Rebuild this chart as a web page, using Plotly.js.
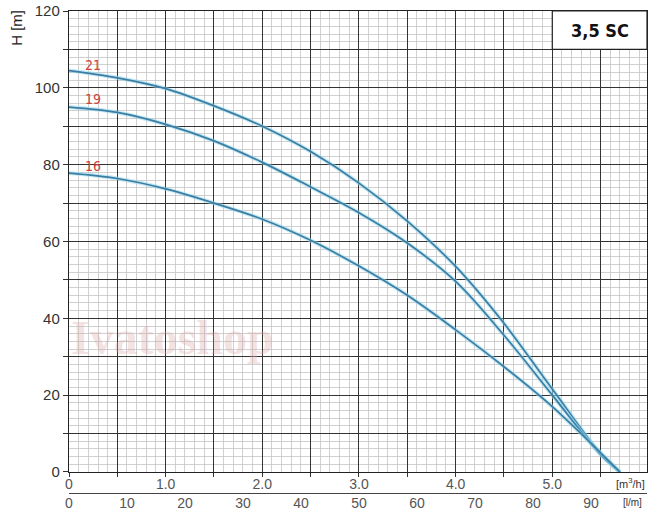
<!DOCTYPE html>
<html>
<head>
<meta charset="utf-8">
<script src="https://cdn.plot.ly/plotly-3.0.1.min.js"></script>
<style>html,body{margin:0;padding:0;background:#fff;}#chart{width:655px;height:532px;}</style>
</head>
<body>
<div id="chart"></div>
<script>
// Flow (m3/h)
const flowQ = [0, 0.5, 1.0, 1.5, 2.0, 2.5, 3.0, 3.5, 4.0, 4.5, 5.0, 5.5, 5.7];
// Head (m) per stage count
const head21 = [104.5, 102.6, 99.8, 95.3, 90.0, 83.4, 75.2, 65.3, 53.5, 38.7, 21.6, 4.8, 0];
const head19 = [95.0, 93.6, 90.5, 86.2, 80.6, 74.2, 67.5, 59.6, 49.6, 35.6, 20.0, 4.5, 0];
const head16 = [77.8, 76.4, 73.7, 70.0, 65.8, 60.3, 53.6, 46.0, 37.0, 27.4, 17.0, 5.0, 0];
const curveNames = ["21", "19", "16"];
const labelPos = [[0.25, 106.0], [0.25, 97.2], [0.25, 79.6]];

const xTickVals = [0, 0.5, 1, 1.5, 2, 2.5, 3, 3.5, 4, 4.5, 5, 5.5];
const xTickText = ["0", "", "1.0", "", "2.0", "", "3.0", "", "4.0", "", "5.0", ""];
const yTickVals = [0, 10, 20, 30, 40, 50, 60, 70, 80, 90, 100, 110, 120];
const yTickText = ["0", "", "20", "", "40", "", "60", "", "80", "", "100", "", "120"];
const lpmTickVals = [0, 10, 20, 30, 40, 50, 60, 70, 80, 90];
const title = "3,5 SC";
const LPM_PER_M3H = 1000 / 60;

const heads = [head21, head19, head16];
const traces = [];
heads.forEach((h, i) => {
  traces.push({x: flowQ, y: h, mode: 'lines', line: {color: 'rgba(150,215,235,0.55)', width: 4, shape: 'spline', smoothing: 1}, hoverinfo: 'skip', showlegend: false});
  traces.push({x: flowQ, y: h, mode: 'lines', name: curveNames[i], line: {color: '#3b7ea5', width: 1.7, shape: 'spline', smoothing: 1}, showlegend: false});
});
// same 21-stage curve expressed in l/min on the secondary flow axis (invisible, only carries the axis)
traces.push({x: flowQ.map(q => q * LPM_PER_M3H), y: head21, xaxis: 'x2', yaxis: 'y', mode: 'lines',
  line: {color: 'rgba(0,0,0,0)', width: 0}, hoverinfo: 'skip', showlegend: false});

const baseFont = 'Liberation Sans, Arial, sans-serif';
const narrowFont = 'Liberation Sans Narrow, DejaVu Sans Condensed, Liberation Sans, sans-serif';
const annotations = curveNames.map((n, i) => ({
  x: labelPos[i][0], y: labelPos[i][1], xref: 'x', yref: 'y', text: n, showarrow: false,
  font: {family: narrowFont, size: 14, color: '#d0413f'}
}));
annotations.push({x: 5.49, y: 115, xref: 'x', yref: 'y', text: '<b>' + title + '</b>', showarrow: false,
  font: {family: narrowFont, size: 18, color: '#111'}});
annotations.push({xref: 'paper', yref: 'paper', x: -0.09, y: 0.965, xanchor: 'center', yanchor: 'middle', text: 'H [m]', textangle: -90, showarrow: false,
  font: {family: baseFont, size: 15, color: '#222'}});
annotations.push({xref: 'paper', yref: 'paper', x: 1.0, y: 0.0207, xanchor: 'right', yanchor: 'middle', text: '[m<sup>3</sup>/h]', showarrow: false,
  font: {family: baseFont, size: 11, color: '#333'}});
annotations.push({xref: 'paper', yref: 'paper', x: 0.995, y: -0.0207, xanchor: 'right', yanchor: 'middle', text: '[l/m]', showarrow: false,
  font: {family: baseFont, size: 10, color: '#333'}});
annotations.push({x: 1.07, y: 35, xref: 'x', yref: 'y', text: '<b>Ivatoshop</b>', showarrow: false,
  font: {family: 'Liberation Serif, DejaVu Serif, serif', size: 48, color: 'rgba(222,172,172,0.36)'}});

const yTickFont = {family: baseFont, size: 15, color: '#333'};
const xTickFont = {family: baseFont, size: 14, color: '#555'};

const layout = {
  width: 655, height: 532,
  margin: {l: 69, r: 8, t: 11, b: 39},
  paper_bgcolor: '#fff', plot_bgcolor: '#fff',
  showlegend: false,
  xaxis: {
    range: [0, 5.98], anchor: 'y', tickmode: 'array', tickvals: xTickVals, ticktext: xTickText,
    showgrid: true, gridcolor: '#333', gridwidth: 1, zeroline: false,
    showline: true, linecolor: '#222', linewidth: 1.2, mirror: true,
    ticks: 'outside', ticklen: 4, tickcolor: '#333', tickfont: xTickFont, ticklabelstandoff: -5,
    minor: {tickmode: 'linear', tick0: 0, dtick: 0.1, showgrid: true, gridcolor: '#c4c4c4', gridwidth: 0.8, ticks: ''}
  },
  xaxis2: {
    range: [0, 5.98 * LPM_PER_M3H], overlaying: 'x', anchor: 'free', position: 0, side: 'bottom',
    tickmode: 'array', tickvals: lpmTickVals, showgrid: false, zeroline: false,
    showline: true, linecolor: '#444', linewidth: 1, ticks: '', tickfont: xTickFont, ticklabelstandoff: -3
  },
  yaxis: {
    domain: [0.0436, 1], range: [0, 120], tickmode: 'array', tickvals: yTickVals, ticktext: yTickText,
    showgrid: true, gridcolor: '#333', gridwidth: 1, zeroline: false,
    showline: true, linecolor: '#222', linewidth: 1.2, mirror: true,
    ticks: 'outside', ticklen: 5, tickcolor: '#333', tickfont: yTickFont,
    minor: {tickmode: 'linear', tick0: 0, dtick: 2, showgrid: true, gridcolor: '#c4c4c4', gridwidth: 0.8, ticks: ''}
  },
  shapes: [{type: 'rect', xref: 'x', yref: 'y', x0: 5.0, x1: 5.98, y0: 110, y1: 120, fillcolor: '#fff', line: {color: '#222', width: 1.2}, layer: 'above'}],
  annotations: annotations
};

Plotly.newPlot('chart', traces, layout, {staticPlot: true, displayModeBar: false});
</script>
</body>
</html>
